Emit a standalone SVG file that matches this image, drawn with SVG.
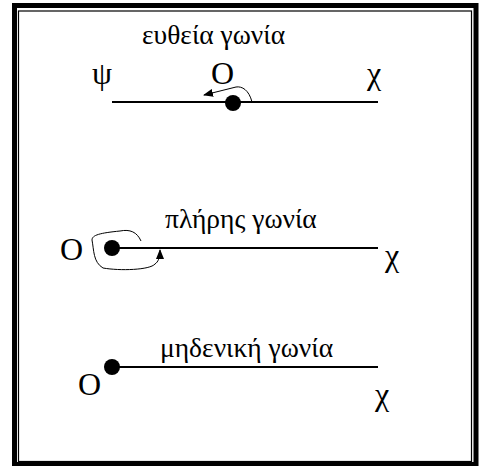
<svg xmlns="http://www.w3.org/2000/svg" width="486" height="466" viewBox="0 0 486 466">
<defs>
<style>
text{font-family:"Liberation Serif","Times New Roman",serif;fill:#000}
.lbl{font-size:27.5px}
.big{font-size:32px}
.ln{stroke:#000;stroke-width:2;fill:none}
.arc{stroke:#000;stroke-width:1;fill:none}
</style>
<marker id="ah" markerWidth="10" markerHeight="8" refX="9" refY="4" orient="auto" markerUnits="userSpaceOnUse">
<path d="M0,0 L10,4 L0,8 Z" fill="#000"/>
</marker>
</defs>
<rect x="0" y="0" width="486" height="466" fill="#fff"/>
<g id="frame">
<rect x="14.5" y="5.5" width="461.5" height="459" fill="none" stroke="#000" stroke-width="5"/>
<rect x="18.5" y="11" width="453" height="450.5" fill="none" stroke="#000" stroke-width="1.2"/>
</g>
<g id="connectors">
<line class="ln" x1="112" y1="102" x2="378" y2="102"/>
<path class="arc" d="M252,102 C249,90 242,86 236,87 L204,95" marker-end="url(#ah)"/>
<line class="ln" x1="112" y1="248" x2="378" y2="248"/>
<path class="arc" d="M141,241 C137,232 130,229 120,231 C100,233 92,235 92,240 C94,250 93,262 103,268 C120,271 150,270 155,264 C158,262 160,258 160,250" marker-end="url(#ah)"/>
<line class="ln" x1="112" y1="367" x2="378" y2="367"/>
</g>
<g id="straight">
<text class="lbl" x="142" y="44">ευθεία γωνία</text>
<text class="big" x="92" y="84">ψ</text>
<text class="big" x="211" y="84">O</text>
<text class="big" x="367" y="84">χ</text>
<circle cx="233" cy="103" r="8" fill="#000"/>
</g>
<g id="full">
<text class="lbl" x="165" y="228">πλήρης γωνία</text>
<text class="big" x="60" y="260">O</text>
<text class="big" x="385" y="266">χ</text>
<circle cx="112" cy="248" r="8" fill="#000"/>
</g>
<g id="zero">
<text class="lbl" x="160" y="357">μηδενική γωνία</text>
<text class="big" x="78" y="395">O</text>
<text class="big" x="375" y="405">χ</text>
<circle cx="112" cy="367" r="8" fill="#000"/>
</g>
</svg>
